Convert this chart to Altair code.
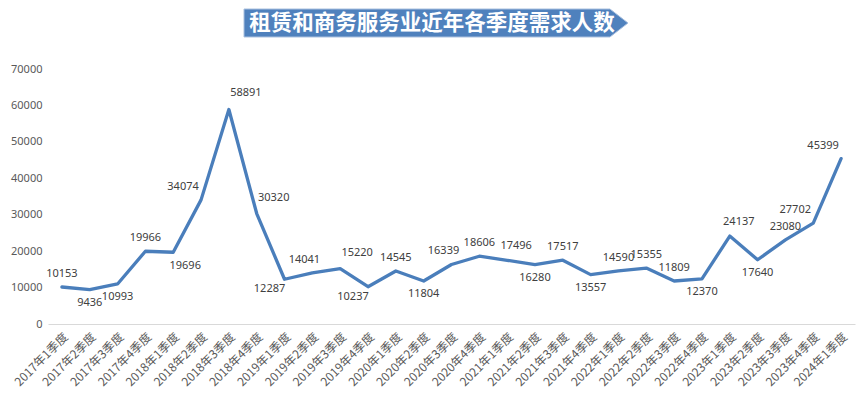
import altair as alt
import pandas as pd

title_text = "租赁和商务服务业近年各季度需求人数"

quarters = [
    "2017年1季度", "2017年2季度", "2017年3季度", "2017年4季度",
    "2018年1季度", "2018年2季度", "2018年3季度", "2018年4季度",
    "2019年1季度", "2019年2季度", "2019年3季度", "2019年4季度",
    "2020年1季度", "2020年2季度", "2020年3季度", "2020年4季度",
    "2021年1季度", "2021年2季度", "2021年3季度", "2021年4季度",
    "2022年1季度", "2022年2季度", "2022年3季度", "2022年4季度",
    "2023年1季度", "2023年2季度", "2023年3季度", "2023年4季度",
    "2024年1季度",
]
demand = [
    10153, 9436, 10993, 19966,
    19696, 34074, 58891, 30320,
    12287, 14041, 15220, 10237,
    14545, 11804, 16339, 18606,
    17496, 16280, 17517, 13557,
    14590, 15355, 11809, 12370,
    24137, 17640, 23080, 27702,
    45399,
]
# label placement (like Excel's data-label position)
label_place = [
    "t", "b", "b", "t",
    "br", "tl+", "tr+", "tr+",
    "bl", "tl", "tr+", "bl",
    "t", "b", "tl", "t",
    "tr", "b", "t", "b",
    "t", "t", "t", "b",
    "tr", "b", "t", "tl+",
    "tl+",
]
y_ticks = [0, 10000, 20000, 30000, 40000, 50000, 60000, 70000]

df = pd.DataFrame({"q": quarters, "v": demand, "pos": label_place})

LINE = "#4a7ebb"
W, H = 807, 255

base = alt.Chart(df).encode(
    x=alt.X("q:N", sort=quarters, title=None,
            scale=alt.Scale(type="point", padding=0.5),
            axis=alt.Axis(labelAngle=-45, ticks=False, domain=True,
                          domainColor="#d9d9d9", domainWidth=1,
                          labelColor="#595959", labelFontSize=12,
                          labelFont="Noto Sans CJK SC", labelPadding=7,
                          grid=False)),
    y=alt.Y("v:Q", title=None,
            scale=alt.Scale(domain=[0, 70000], nice=False),
            axis=alt.Axis(values=y_ticks, format="d", ticks=False, domain=False, grid=False,
                          labelColor="#595959", labelFontSize=11,
                          labelFont="Noto Sans", labelPadding=6)),
)

line = base.mark_line(color=LINE, strokeWidth=3.3, strokeJoin="round", strokeCap="round")

offsets = {
    "t": (0, -13),
    "b": (0, 13),
    "tl": (-8, -13),
    "tr": (9, -14),
    "tl+": (-18, -13),
    "tr+": (17, -16),
    "bl": (-15, 10),
    "br": (12, 14),
}
label_layers = []
for code, (dx, dy) in offsets.items():
    label_layers.append(
        base.transform_filter(alt.datum.pos == code)
        .mark_text(dx=dx, dy=dy, fontSize=11, font="Noto Sans", color="#404040",
                   baseline="middle", align="center")
        .encode(text=alt.Text("v:Q", format="d"))
    )

banner_df = pd.DataFrame({"t": [title_text]})
banner_shape = "M-1,-0.0729L0.906,-0.0729L1,0L0.906,0.0729L-1,0.0729Z"
banner = alt.Chart(banner_df).mark_point(
    shape=banner_shape, filled=True, fill="#4f81bd", opacity=1,
    stroke="#a9c0df", strokeWidth=1
).encode(x=alt.value(388), y=alt.value(-46), size=alt.value(147456))

banner_text = alt.Chart(banner_df).mark_text(
    font="Noto Sans CJK SC", fontWeight="bold", fontSize=21.5, color="white",
    align="center", baseline="middle"
).encode(x=alt.value(384), y=alt.value(-45), text="t:N")

chart = alt.layer(line, *label_layers, banner, banner_text).properties(
    width=W, height=H,
    autosize=alt.AutoSizeParams(type="none"),
    padding={"left": 40, "top": 61, "right": 2, "bottom": 65},
    background="white",
).configure_view(stroke=None)

chart.save("out.html", embed_options={"renderer": "svg", "actions": False})
